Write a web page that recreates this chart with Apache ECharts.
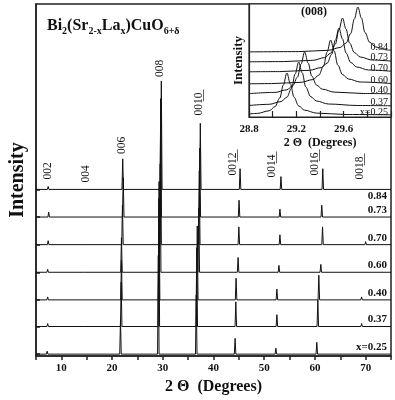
<!DOCTYPE html>
<html><head><meta charset="utf-8">
<script src="https://cdn.jsdelivr.net/npm/echarts@6/dist/echarts.min.js"></script>
<style>html,body{margin:0;padding:0;background:#fff}#c{width:395px;height:400px}</style>
</head><body><div id="c"></div>
<script>
// ---------- DATA ----------
const samples = ['0.84', '0.73', '0.70', '0.60', '0.40', '0.37', 'x=0.25'];
const hklNames = ['002', '004', '006', '008', '0010', '0012', '0014', '0016', '0018'];
const hklText = ['002', '004', '006', '008', '001\u03320\u0332', '001\u03322\u0332', '001\u03324\u0332', '001\u03326\u0332', '001\u03328\u0332'];
// vertical offsets of each pattern (stacked), intensity units
const traceOffsets = [169, 141, 113, 85, 57, 30, 2];
// peak positions (2θ, degrees) per sample, in hkl order
const peakPositions = [
  [7.4, 14.8, 22.1, 29.71, 37.4, 45.24, 53.3, 61.55, 70.2],
  [7.5, 14.8, 22.2, 29.59, 37.3, 45.04, 53.1, 61.35, 70.0],
  [7.4, 14.8, 22.05, 29.56, 37.2, 45.0, 53.1, 61.5, 70.0],
  [7.3, 14.7, 21.85, 29.49, 37.1, 44.85, 52.9, 61.16, 69.8],
  [7.3, 14.6, 21.85, 29.27, 36.8, 44.45, 52.5, 60.77, 69.2],
  [7.3, 14.6, 21.8, 29.22, 36.7, 44.4, 52.5, 60.57, 69.2],
  [7.2, 14.5, 21.66, 29.12, 36.6, 44.26, 52.3, 60.37, 69.0]
];
// peak intensities (above each pattern's baseline)
const peakIntensities = [
  [3, 2, 31, 110, 67, 21, 13, 21, 2],
  [5, 2, 40, 120, 70, 17, 8, 12, 1],
  [4, 1.5, 40, 120, 75, 18, 10, 18, 3],
  [3, 1, 35, 110, 65, 15, 7, 8, 0],
  [3, 1.5, 40, 120, 75, 22, 11, 25, 3],
  [3, 1.5, 45, 130, 80, 25, 12, 27, 3],
  [3, 0, 35, 100, 60, 16, 6, 12, 0]
];
// inset: (008) reflection profiles, [2θ, intensity above baseline]
const insetOffsets = [65, 55, 45, 33, 23, 11, 2];
const inset084 = [[28.80,0.1],[29.22,0.4],[29.47,1.7],[29.57,4.5],[29.62,9],[29.66,18.5],[29.69,33],[29.72,45],[29.75,34],[29.78,19.5],[29.82,9.7],[29.87,5],[29.97,2],[30.0,1.8]];
const inset073 = [[28.80,0.2],[29.09,0.4],[29.34,1.7],[29.44,4.4],[29.49,8.8],[29.53,18],[29.56,32],[29.59,44],[29.62,33],[29.65,19],[29.69,9.5],[29.74,5],[29.84,2],[30.0,0.9]];
const inset070 = [[28.80,0.2],[29.06,0.4],[29.31,1.7],[29.41,4.4],[29.46,8.8],[29.50,18],[29.53,32],[29.56,44],[29.59,33],[29.62,19],[29.66,9.5],[29.71,5],[29.81,2],[30.0,0.8]];
const inset060 = [[28.80,0.2],[28.99,0.4],[29.24,1.7],[29.34,4.4],[29.39,8.8],[29.43,18],[29.46,32],[29.49,44],[29.52,33],[29.55,19],[29.59,9.5],[29.64,5],[29.74,2],[30.0,0.5]];
const inset040 = [[28.80,0.4],[29.02,1.6],[29.12,4.2],[29.17,8.4],[29.21,17],[29.24,30],[29.27,42],[29.30,31],[29.33,18],[29.37,9],[29.42,4.8],[29.52,1.9],[29.77,0.5],[30.0,0.2]];
const inset037 = [[28.80,0.5],[28.97,1.7],[29.07,4.4],[29.12,8.8],[29.16,18],[29.19,32],[29.22,44],[29.25,33],[29.28,19],[29.32,9.5],[29.37,5],[29.47,2],[29.72,0.5],[30.0,0.2]];
const inset025 = [[28.80,1.0],[28.87,1.6],[28.97,4.2],[29.02,8.4],[29.06,17],[29.09,30],[29.12,42],[29.15,31],[29.18,18],[29.22,9],[29.27,4.8],[29.37,1.9],[29.62,0.5],[30.0,0.2]];
const insetCurves = [inset084, inset073, inset070, inset060, inset040, inset037, inset025];
const mainTicks = [10, 20, 30, 40, 50, 60, 70];
const insetTicks = ['28.8', '29.2', '29.6'];

// ---------- LAYOUT ----------
const FONT = '"Liberation Serif", "Times New Roman", serif';
const INK = '#111';
const layout = {
  hklLabelX: [7.4, 14.8, 22.05, 29.5, 37.2, 43.9, 51.5, 60.0, 68.8],
  hklLabelY: [179, 176, 205, 283, 244, 183, 181, 183, 179],
  sampleLabelDy: [-7, 7, 7, 7, 7, 7, 7],
  insetLabelDy: [5, 5, 4, 4, 4, 4, 3],
  peakHalfWidth: 0.15
};

function buildTrace(i) {
  const off = traceOffsets[i];
  const w = layout.peakHalfWidth;
  const pts = [[5, off]];
  peakPositions[i].forEach((p, k) => {
    const h = peakIntensities[i][k];
    if (!h) return;
    pts.push([p - w, off], [p, off + h], [p + w, off]);
  });
  pts.push([75, off]);
  return pts;
}

const chart = echarts.init(document.getElementById('c'), null, {renderer: 'canvas'});
const series = [];
samples.forEach((s, i) => {
  series.push({
    type: 'line', name: s, xAxisIndex: 0, yAxisIndex: 0,
    data: buildTrace(i), showSymbol: false, symbol: 'none',
    lineStyle: {color: INK, width: 1}, silent: true, animation: false, z: 3
  });
});
samples.forEach((s, i) => {
  series.push({
    type: 'line', name: 'inset ' + s, xAxisIndex: 1, yAxisIndex: 1,
    data: insetCurves[i].map(p => [p[0], p[1] + insetOffsets[i]]),
    showSymbol: false, symbol: 'none', smooth: 0.35, smoothMonotone: 'x',
    lineStyle: {color: INK, width: 1}, silent: true, animation: false, z: 5
  });
});

const axisLineStyle = {color: '#222', width: 1.5};
chart.setOption({
  animation: false,
  backgroundColor: '#fff',
  grid: [
    {left: 36, right: 4, top: 4, bottom: 39, show: true, borderColor: '#222', borderWidth: 1.5},
    {left: 249, width: 142, top: 4, height: 113, show: true, backgroundColor: '#fff', borderColor: '#222', borderWidth: 1.2, z: 4}
  ],
  xAxis: [
    {gridIndex: 0, type: 'value', min: 5, max: 75, interval: 5,
     axisLine: {lineStyle: axisLineStyle}, splitLine: {show: false},
     axisTick: {inside: false, length: 4, lineStyle: axisLineStyle},
     axisLabel: {margin: 7, color: INK, fontFamily: FONT, fontWeight: 'bold', fontSize: 11,
       formatter: v => mainTicks.indexOf(Math.round(v)) >= 0 && Math.abs(v - Math.round(v)) < 1e-6 ? String(Math.round(v)) : ''},
     name: '2 \u0398  (Degrees)', nameLocation: 'middle', nameGap: 22,
     nameTextStyle: {color: INK, fontFamily: FONT, fontWeight: 'bold', fontSize: 16}},
    {gridIndex: 1, type: 'value', min: 28.8, max: 30.0, interval: 0.2,
     axisLine: {lineStyle: {color: '#222', width: 1.2}}, splitLine: {show: false},
     axisTick: {inside: true, length: 6, lineStyle: {color: '#222', width: 1.2}},
     axisLabel: {margin: 7, color: INK, fontFamily: FONT, fontWeight: 'bold', fontSize: 11,
       formatter: v => { const t = (Math.round(v * 10) / 10).toFixed(1); return insetTicks.indexOf(t) >= 0 ? t : ''; }},
     name: '2 \u0398  (Degrees)', nameLocation: 'middle', nameGap: 20,
     nameTextStyle: {color: INK, fontFamily: FONT, fontWeight: 'bold', fontSize: 12}, z: 6}
  ],
  yAxis: [
    {gridIndex: 0, type: 'value', min: 0, max: 357,
     axisLine: {show: true, lineStyle: axisLineStyle}, splitLine: {show: false},
     axisTick: {show: true, inside: true, length: 4, lineStyle: axisLineStyle, customValues: traceOffsets},
     axisLabel: {show: false},
     name: 'Intensity', nameLocation: 'middle', nameGap: 8,
     nameTextStyle: {color: INK, fontFamily: FONT, fontWeight: 'bold', fontSize: 20}},
    {gridIndex: 1, type: 'value', min: 0, max: 113,
     axisLine: {show: true, lineStyle: {color: '#222', width: 1.2}}, splitLine: {show: false},
     axisTick: {show: false}, axisLabel: {show: false},
     name: 'Intensity', nameLocation: 'middle', nameGap: 4,
     nameTextStyle: {color: INK, fontFamily: FONT, fontWeight: 'bold', fontSize: 13}, z: 6}
  ],
  series: series
});

// ---------- annotations placed through the axes' scales ----------
const g = [];
g.push({type: 'text', x: 47, y: 16, z: 10, silent: true,
  style: {text: 'Bi{s|2}(Sr{s|2-x}La{s|x})CuO{s|6+\u03b4}', fill: INK, font: 'bold 16px ' + FONT,
    rich: {s: {fontSize: 10, fontFamily: FONT, fontWeight: 'bold', fill: INK, padding: [10, 0, 0, 0]}}}});
hklText.forEach((t, k) => {
  const p = chart.convertToPixel({gridIndex: 0}, [layout.hklLabelX[k], layout.hklLabelY[k]]);
  g.push({type: 'text', x: p[0], y: p[1], rotation: Math.PI / 2, z: 10, silent: true,
    style: {text: t, fill: INK, font: '11.5px ' + FONT, align: 'left', verticalAlign: 'middle'}});
});
samples.forEach((s, i) => {
  const p = chart.convertToPixel({gridIndex: 0}, [75, traceOffsets[i] + layout.sampleLabelDy[i]]);
  g.push({type: 'text', x: p[0] - 4, y: p[1], z: 10, silent: true,
    style: {text: s, fill: INK, font: 'bold 11px ' + FONT, align: 'right', verticalAlign: 'middle'}});
});
samples.forEach((s, i) => {
  const p = chart.convertToPixel({gridIndex: 1}, [30.0, insetOffsets[i] + layout.insetLabelDy[i]]);
  g.push({type: 'text', x: p[0] - 3, y: p[1], z: 10, silent: true,
    style: {text: s, fill: INK, font: '10px ' + FONT, align: 'right', verticalAlign: 'middle'}});
});
const tp = chart.convertToPixel({gridIndex: 1}, [29.35, 105]);
g.push({type: 'text', x: tp[0], y: tp[1], z: 10, silent: true,
  style: {text: '(008)', fill: INK, font: 'bold 12px ' + FONT, align: 'center', verticalAlign: 'middle'}});
chart.setOption({graphic: g});
</script>
</body></html>
